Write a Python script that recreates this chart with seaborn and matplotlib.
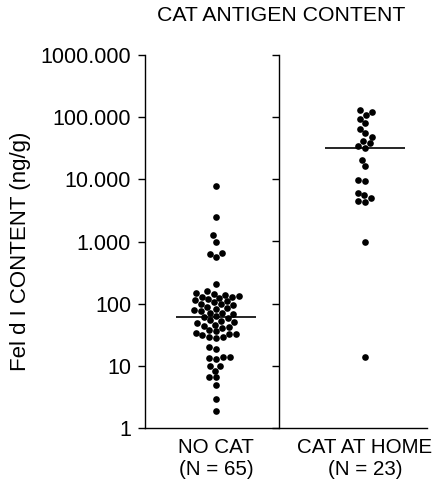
import numpy as np
import pandas as pd
import matplotlib
matplotlib.use("Agg")
import matplotlib.pyplot as plt
import seaborn as sns

# ---- data (ng/g) ----
categories = ["NO CAT\n(N = 65)", "CAT AT HOME\n(N = 23)"]

no_cat = [
    7800, 2500, 1250, 1000, 650, 620, 560, 207,
    160, 150, 145, 140, 135, 130, 128, 125, 120, 115, 110, 105,
    100, 98, 95, 90, 85, 82, 78, 75, 72, 70, 67, 63,
    60, 58, 55, 52, 50, 48, 46, 44, 42, 40, 38, 36, 34, 33, 32, 31,
    29, 29, 28, 20, 19, 14, 13.5, 14, 13, 10, 10, 8.3, 6.6, 6.5, 4.9, 2.9, 1.9,
]

cat_home = [
    130000, 120000, 110000, 95000, 80000, 65000, 55000, 48000, 42000, 38000, 34000,
    31600,
    20400, 16300, 9700, 9500, 6000, 5500, 5000, 4500, 4300, 980, 13.9,
]

ytick_values = [1, 10, 100, 1000, 10000, 100000, 1000000]
ytick_labels = ["1", "10", "100", "1.000", "10.000", "100.000", "1000.000"]

title = "CAT ANTIGEN CONTENT"
ylabel = "Fel d I CONTENT (ng/g)"

df = pd.DataFrame({
    "group": [categories[0]] * len(no_cat) + [categories[1]] * len(cat_home),
    "value": no_cat + cat_home,
})

sns.set_theme(style="ticks")
plt.rcParams["font.family"] = ["Liberation Sans", "DejaVu Sans"]

fig = plt.figure(figsize=(4.37, 4.82), dpi=100)
ax = fig.add_axes([145 / 437, (482 - 428) / 482, 282 / 437, 373 / 482])

sns.swarmplot(data=df, x="group", y="value", order=categories, color="black",
              size=4.8, log_scale=True, ax=ax, linewidth=0)

# median lines
for i, cat in enumerate(categories):
    med = np.median(df.loc[df["group"] == cat, "value"])
    ax.hlines(med, i - 0.27, i + 0.27, color="black", lw=1.2, zorder=3)

ax.set_ylim(1, 1e6)
ax.set_xlim(-0.477, 1.416)
ax.set_yticks(ytick_values)
ax.set_yticklabels(ytick_labels)
ax.minorticks_off()
ax.yaxis.set_minor_locator(matplotlib.ticker.NullLocator())
ax.tick_params(axis="y", direction="out", length=5, width=1, labelsize=15.5,
               colors="black", pad=5)
ax.tick_params(axis="x", length=0, labelsize=14.8, pad=7, colors="black")
ax.set_xlabel("")
ax.set_ylabel(ylabel, fontsize=16, color="black")
ax.yaxis.set_label_coords(-0.405, 0.475)
for s in ["top", "right"]:
    ax.spines[s].set_visible(False)
for s in ["left", "bottom"]:
    ax.spines[s].set_linewidth(1.0)
    ax.spines[s].set_color("black")
ax.grid(False)

# divider axis between the two groups
sec = ax.secondary_yaxis(0.476)
sec.set_yticks(ytick_values)
sec.yaxis.set_minor_locator(matplotlib.ticker.NullLocator())
sec.tick_params(axis="y", direction="out", length=5, width=1, labelleft=False,
                labelright=False, colors="black")
for sp in sec.spines.values():
    sp.set_linewidth(1.0)
    sp.set_color("black")

fig.text(0.643, 0.968, title, ha="center", va="center", fontsize=15.3, color="black")

fig.savefig("out.png", dpi=100)
